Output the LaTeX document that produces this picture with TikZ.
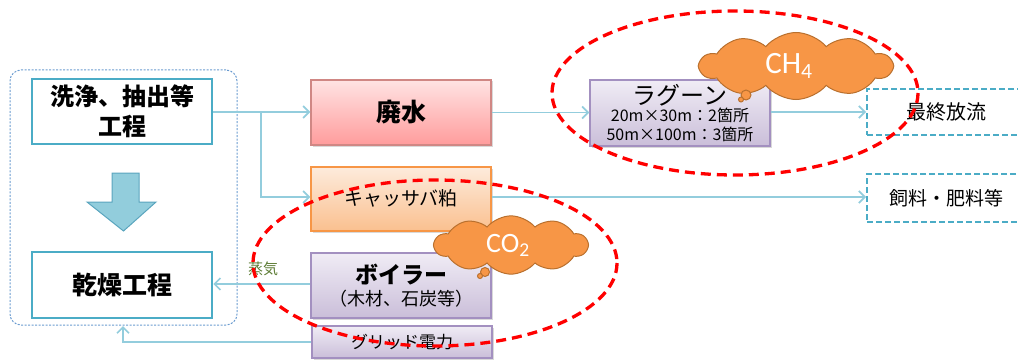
\documentclass[tikz,border=0pt]{standalone}
\usepackage{fontspec}
\setmainfont{Noto Sans CJK JP}
\newfontfamily\lat{Carlito}
\usetikzlibrary{arrows.meta,shapes.symbols,shadows}
\definecolor{teal}{HTML}{4BACC6}
\definecolor{lineblue}{HTML}{93CDDD}
\definecolor{arrfill}{HTML}{92CDDC}
\definecolor{arrdraw}{HTML}{5AA5BE}
\definecolor{pinkT}{HTML}{FFE3E3}
\definecolor{pinkB}{HTML}{FF9C9C}
\definecolor{pinkD}{HTML}{D08784}
\definecolor{orT}{HTML}{FDEBDC}
\definecolor{orB}{HTML}{FAC08F}
\definecolor{orD}{HTML}{F79646}
\definecolor{puT}{HTML}{F0ECF5}
\definecolor{puB}{HTML}{CABED9}
\definecolor{puD}{HTML}{A390C0}
\definecolor{grpD}{HTML}{6A9BD0}
\definecolor{redD}{HTML}{FF0000}
\definecolor{cloudF}{HTML}{F79646}
\definecolor{cloudD}{HTML}{B9702E}
\definecolor{steamC}{HTML}{5E7D36}
\tikzset{
  procbox/.style={draw=teal, line width=2.5pt, fill=white, minimum width=180pt, inner sep=0pt, align=center},
  cbox/.style={line width=1.3pt, minimum width=180pt, inner sep=0pt, align=center,
     drop shadow={shadow xshift=1.5pt, shadow yshift=-1.5pt, opacity=0.25, fill=black!60}},
  pinkbox/.style={cbox, draw=pinkD, top color=pinkT, bottom color=pinkB},
  orbox/.style={cbox, draw=orD, top color=orT, bottom color=orB},
  pubox/.style={cbox, draw=puD, top color=puT, bottom color=puB},
  outbox/.style={draw=teal, line width=2pt, dash pattern=on 6pt off 3pt, fill=white, minimum width=163pt, inner sep=0pt},
  conn/.style={draw=lineblue, line width=1.7pt, -{Straight Barb[length=6pt,width=12pt]}},
  redell/.style={draw=redD, line width=3.3pt, dash pattern=on 10pt off 6pt},
  cloudnode/.style={cloud, cloud puffs=10, cloud puff arc=100, fill=cloudF, draw=cloudD, line width=1pt, inner sep=0pt, text=white},
  bubble/.style={fill=cloudF, draw=cloudD, line width=1pt}
}
\begin{document}
\begin{tikzpicture}[x=1pt,y=-1pt]
\useasboundingbox (0,0) rectangle (1018,361);
\clip (0,0) rectangle (1018,361);
% group box
\node[draw=grpD, line width=1pt, dash pattern=on 2pt off 1.5pt, rounded corners=11pt,
  minimum width=227pt, minimum height=255pt, inner sep=0pt] (group) at (123.5,197.5) {};
% left boxes
\node[procbox, minimum height=65pt, font=\fontsize{24}{30}\selectfont\bfseries] (wash) at (122,111.5)
  {洗浄、抽出等\\ 工程};
\node[procbox, minimum height=66pt, font=\fontsize{25}{30}\selectfont\bfseries] (dry) at (122,285)
  {乾燥工程};
% big down arrow
\draw[fill=arrfill, draw=arrdraw, line width=1pt]
  (112,173) -- (139,173) -- (139,202) -- (156,202) -- (123.5,231) -- (87,202) -- (112,202) -- cycle;
% middle boxes
\node[pinkbox, minimum height=65pt, font=\fontsize{25}{30}\selectfont\bfseries] (waste) at (401,112.5)
  {廃水};
\node[orbox, minimum height=64pt, font=\fontsize{19}{22}\selectfont] (kasu) at (401,199)
  {\raisebox{2pt}{キャッサバ粕}};
\node[pubox, minimum height=66pt, font=\fontsize{16}{19}\selectfont] (lagoon) at (680,113)
  {{\fontsize{24}{25}\selectfont ラグーン}\\[-2pt]
   20m×30m：2箇所\\
   50m×100m：3箇所};
\node[pubox, minimum height=65pt, font=\fontsize{18}{22}\selectfont] (boiler) at (401,285.5)
  {{\fontsize{23}{26}\selectfont\bfseries ボイラー}\\
   （木材、石炭等）};
\node[pubox, minimum height=32pt, font=\fontsize{17}{20}\selectfont] (grid) at (402,342)
  {グリッド電力};
% output boxes
\node[outbox, minimum height=46pt, font=\fontsize{20}{22}\selectfont] (final) at (948.5,112)
  {\hspace*{-5pt}最終放流};
\node[outbox, minimum height=48pt, font=\fontsize{19}{22}\selectfont] (feed) at (948.5,198)
  {\hspace*{-5pt}飼料・肥料等};
% connectors
\coordinate (br) at (261,112);
\draw[conn] (wash.east |- br) -- (waste.west |- br);
\draw[conn] (br) |- (kasu.west |- 0,197);
\draw[conn] (waste.east) -- (waste.east -| lagoon.west);
\draw[conn] (lagoon.east |- 0,112) -- (final.west |- 0,112);
\draw[conn] (kasu.east |- 0,197) -- (feed.west |- 0,197);
\draw[conn] (boiler.west |- 0,284) -- (dry.east |- 0,284);
\node[text=steamC, inner sep=0pt, font=\fontsize{15}{18}\selectfont] (steam) at (263,269) {蒸気};
\coordinate (gb) at (123,326);
\draw[conn] (grid.west) -| (gb);
% red dashed ellipses
\draw[redell] (735,93) ellipse [x radius=183, y radius=82];
\draw[redell] (435,263) ellipse [x radius=182, y radius=83];
% clouds
\node[cloudnode, minimum width=192pt, minimum height=67pt, font=\lat\fontsize{31}{34}\selectfont] (ch4) at (796,66)
  {\hspace*{-14pt}CH\textsubscript{4}};
\draw[bubble] (746,95) circle [radius=5];
\draw[bubble] (741,99.5) circle [radius=2.5];
\node[cloudnode, minimum width=153pt, minimum height=50pt, font=\lat\fontsize{28}{30}\selectfont] (co2) at (511,245)
  {\hspace*{-6pt}CO\textsubscript{2}};
\draw[bubble] (485,272) circle [radius=4.5];
\draw[bubble] (480,276) circle [radius=2.5];
\end{tikzpicture}
\end{document}
